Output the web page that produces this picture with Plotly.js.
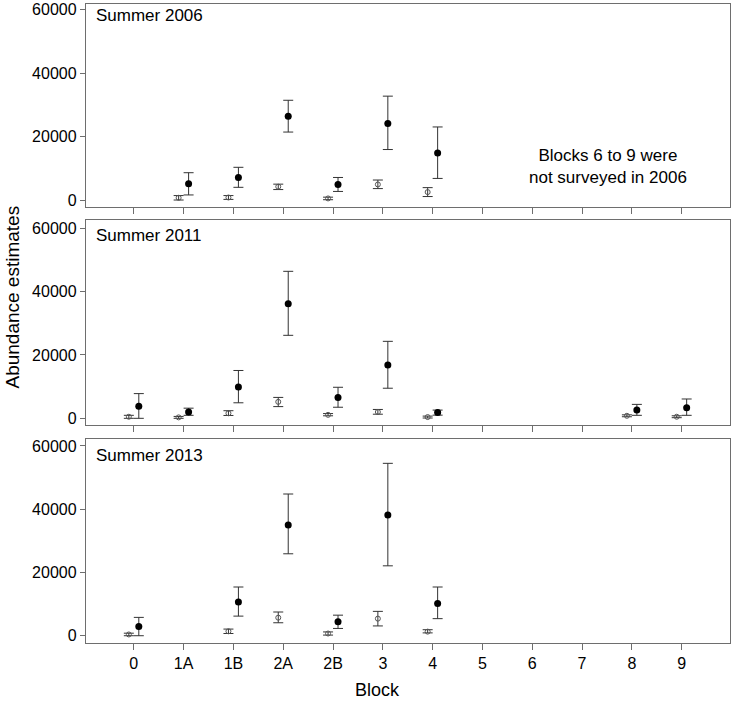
<!DOCTYPE html>
<html>
<head>
<meta charset="utf-8">
<script src="https://cdn.plot.ly/plotly-3.0.1.min.js"></script>
<style>html,body{margin:0;padding:0;background:#fff;}#chart{width:733px;height:702px;}</style>
</head>
<body>
<div id="chart"></div>
<script>
// Block categories on the x axis
const blocks = ['0','1A','1B','2A','2B','3','4','5','6','7','8','9'];

// Summer 2006
const cat2006 = ['1A','1B','2A','2B','3','4'];
const open2006 = [800, 900, 4300, 600, 5000, 2600];
const openLo2006 = [100, 300, 3400, 200, 3700, 1200];
const openHi2006 = [1500, 1500, 5100, 1000, 6400, 4000];
const filled2006 = [5200, 7200, 26500, 5000, 24200, 14900];
const filledLo2006 = [1700, 4100, 21500, 2800, 16000, 6900];
const filledHi2006 = [8700, 10400, 31500, 7200, 32800, 23100];

// Summer 2011
const cat2011 = ['0','1A','1B','2A','2B','3','4','8','9'];
const open2011 = [500, 300, 1600, 5200, 1100, 2000, 400, 800, 500];
const openLo2011 = [0, 0, 900, 3700, 800, 1300, 100, 500, 200];
const openHi2011 = [950, 600, 2400, 6600, 1500, 2800, 700, 1100, 800];
const filled2011 = [3800, 2000, 9900, 36200, 6600, 16800, 1800, 2600, 3300];
const filledLo2011 = [0, 950, 4900, 26200, 3500, 9500, 1000, 950, 950];
const filledHi2011 = [7800, 3200, 15100, 46400, 9800, 24300, 2600, 4400, 6100];

// Summer 2013
const cat2013 = ['0','1B','2A','2B','3','4'];
const open2013 = [400, 1400, 5700, 700, 5400, 1300];
const openLo2013 = [0, 700, 4100, 200, 3100, 900];
const openHi2013 = [800, 2100, 7500, 1200, 7700, 1900];
const filled2013 = [2900, 10700, 35000, 4400, 38200, 10200];
const filledLo2013 = [0, 6200, 25900, 2300, 22100, 5400];
const filledHi2013 = [5800, 15400, 44800, 6500, 54500, 15400];

const panelTitles = ['Summer 2006', 'Summer 2011', 'Summer 2013'];
const yTicks = [0, 20000, 40000, 60000];

const FONT = 'Liberation Sans, Arial, sans-serif';
const OFFSET = 0.1;

function pos(cats, shift) { return cats.map(c => blocks.indexOf(c) + shift); }

function makeTraces(cats, ov, olo, ohi, fv, flo, fhi, xa, ya) {
  return [
    {
      type: 'scatter', mode: 'markers', xaxis: xa, yaxis: ya,
      x: pos(cats, -OFFSET), y: ov,
      marker: {symbol: 'circle-open', size: 5, color: '#555', line: {width: 1, color: '#555'}},
      error_y: {type: 'data', symmetric: false,
        array: ohi.map((h, i) => h - ov[i]), arrayminus: ov.map((v, i) => v - olo[i]),
        color: '#333', thickness: 1, width: 5},
      showlegend: false, hoverinfo: 'x+y'
    },
    {
      type: 'scatter', mode: 'markers', xaxis: xa, yaxis: ya,
      x: pos(cats, OFFSET), y: fv,
      marker: {symbol: 'circle', size: 7, color: '#000'},
      error_y: {type: 'data', symmetric: false,
        array: fhi.map((h, i) => h - fv[i]), arrayminus: fv.map((v, i) => v - flo[i]),
        color: '#333', thickness: 1, width: 5},
      showlegend: false, hoverinfo: 'x+y'
    }
  ];
}

const data = [].concat(
  makeTraces(cat2006, open2006, openLo2006, openHi2006, filled2006, filledLo2006, filledHi2006, 'x', 'y'),
  makeTraces(cat2011, open2011, openLo2011, openHi2011, filled2011, filledLo2011, filledHi2011, 'x2', 'y2'),
  makeTraces(cat2013, open2013, openLo2013, openHi2013, filled2013, filledLo2013, filledHi2013, 'x3', 'y3')
);

const frame = {showline: true, mirror: true, linecolor: '#6e6e6e', linewidth: 1.2,
  showgrid: false, zeroline: false};

function xax(anchor, showLabels) {
  return Object.assign({}, frame, {
    anchor: anchor, range: [-0.96, 11.97],
    tickmode: 'array', tickvals: blocks.map((b, i) => i), ticktext: blocks,
    showticklabels: showLabels, ticks: 'outside', ticklen: 6, tickwidth: 1, tickcolor: '#6e6e6e',
    tickfont: {family: FONT, size: 16, color: '#000'}
  });
}
function yax(anchor, domain, range) {
  return Object.assign({}, frame, {
    anchor: anchor, domain: domain, range: range,
    tickmode: 'array', tickvals: yTicks, ticktext: yTicks.map(String),
    ticks: 'outside', ticklen: 5, tickwidth: 1, tickcolor: '#6e6e6e',
    ticklabeloverflow: 'allow',
    tickfont: {family: FONT, size: 16, color: '#000'}
  });
}

const layout = {
  width: 733, height: 702,
  margin: {l: 86, r: 3, t: 1, b: 59},
  paper_bgcolor: '#fff', plot_bgcolor: '#fff',
  font: {family: FONT, color: '#000'},
  showlegend: false,
  xaxis: xax('y', false),
  yaxis: yax('x', [0.6791, 0.9953], [-2100, 61800]),
  xaxis2: xax('y2', false),
  yaxis2: yax('x2', [0.3396, 0.6589], [-2100, 62600]),
  xaxis3: xax('y3', true),
  yaxis3: yax('x3', [0, 0.3178], [-2300, 62200]),
  annotations: [
    {xref: 'x domain', yref: 'y domain', x: 0.012, y: 0.944, xanchor: 'left', yanchor: 'middle',
     text: panelTitles[0], showarrow: false, font: {family: FONT, size: 17, color: '#000'}},
    {xref: 'x2 domain', yref: 'y2 domain', x: 0.012, y: 0.922, xanchor: 'left', yanchor: 'middle',
     text: panelTitles[1], showarrow: false, font: {family: FONT, size: 17, color: '#000'}},
    {xref: 'x3 domain', yref: 'y3 domain', x: 0.012, y: 0.919, xanchor: 'left', yanchor: 'middle',
     text: panelTitles[2], showarrow: false, font: {family: FONT, size: 17, color: '#000'}},
    {xref: 'x domain', yref: 'y domain', x: 0.8106, y: 0.202, xanchor: 'center', yanchor: 'middle',
     align: 'center', text: 'Blocks 6 to 9 were<br>not surveyed in 2006', showarrow: false,
     font: {family: FONT, size: 17, color: '#000'}},
    {xref: 'paper', yref: 'paper', x: -0.114, y: 0.539, xanchor: 'center', yanchor: 'middle',
     textangle: -90, text: 'Abundance estimates', showarrow: false,
     font: {family: FONT, size: 19, color: '#000'}},
    {xref: 'paper', yref: 'paper', x: 0.4527, y: -0.0915, xanchor: 'center', yanchor: 'bottom',
     text: 'Block', showarrow: false, font: {family: FONT, size: 18, color: '#000'}}
  ]
};

Plotly.newPlot('chart', data, layout, {staticPlot: true, displayModeBar: false});
</script>
</body>
</html>
